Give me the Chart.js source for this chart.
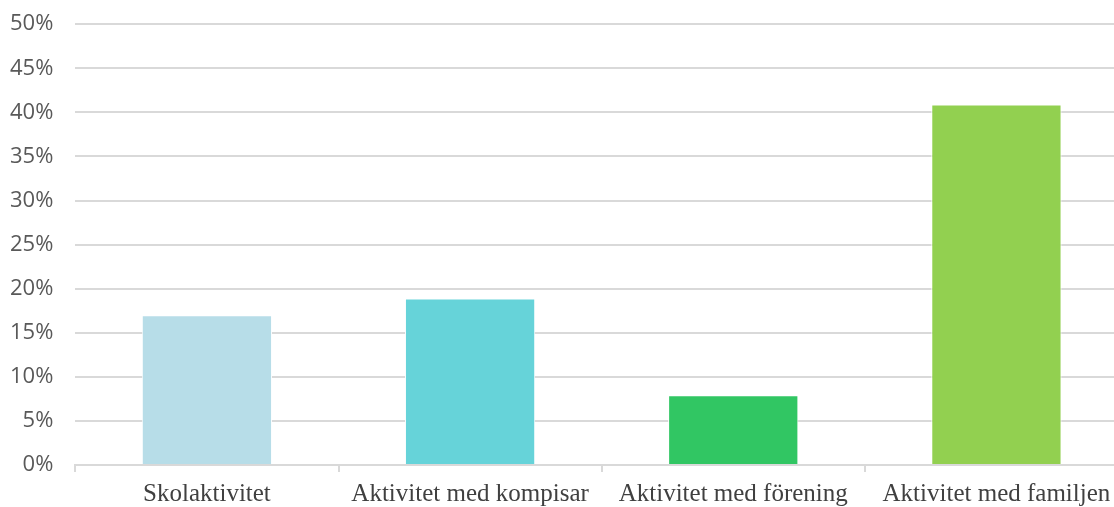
<!DOCTYPE html>
<html>
<head>
<meta charset="utf-8">
<script src="https://cdn.jsdelivr.net/npm/chart.js@4"></script>
<style>
  html, body { margin: 0; padding: 0; background: #fff; overflow: hidden; }
  #wrap { width: 1128px; height: 522px; margin-top: -11px; }
</style>
</head>
<body>
<div id="wrap"><canvas id="activityChart"></canvas></div>
<script>
const categories = ['Skolaktivitet', 'Aktivitet med kompisar', 'Aktivitet med förening', 'Aktivitet med familjen'];
const shares = [17.0, 18.9, 7.9, 40.9];
const barColors = ['#B7DDE8', '#66D3D9', '#31C663', '#92D050'];

document.addEventListener('DOMContentLoaded', function() {
    new Chart(document.getElementById('activityChart'), {
        type: 'bar',
        data: {
            labels: categories,
            datasets: [{
                label: 'Andel',
                data: shares,
                backgroundColor: barColors,
                borderColor: '#ffffff',
                borderWidth: 1,
                barPercentage: 0.495,
                categoryPercentage: 1
            }]
        },
        options: {
            responsive: true,
            maintainAspectRatio: false,
            animation: false,
            layout: { padding: { top: 0, right: 0, bottom: -5, left: -12 } },
            plugins: {
                legend: { display: false },
                tooltip: { enabled: false }
            },
            scales: {
                y: {
                    min: 0,
                    max: 50,
                    ticks: {
                        stepSize: 5,
                        padding: 22,
                        color: '#595959',
                        font: { family: 'Open Sans', size: 22 },
                        callback: function(v) { return v + '%'; }
                    },
                    grid: { color: '#d9d9d9', lineWidth: 2, drawTicks: false },
                    border: { display: false }
                },
                x: {
                    ticks: {
                        color: '#404040',
                        padding: 7,
                        font: { family: 'Liberation Serif', size: 25 }
                    },
                    grid: {
                        offset: true,
                        drawOnChartArea: false,
                        color: '#d9d9d9',
                        lineWidth: 2,
                        tickLength: 7
                    },
                    border: { color: '#d9d9d9', width: 2 }
                }
            }
        }
    });
});
</script>
</body>
</html>
